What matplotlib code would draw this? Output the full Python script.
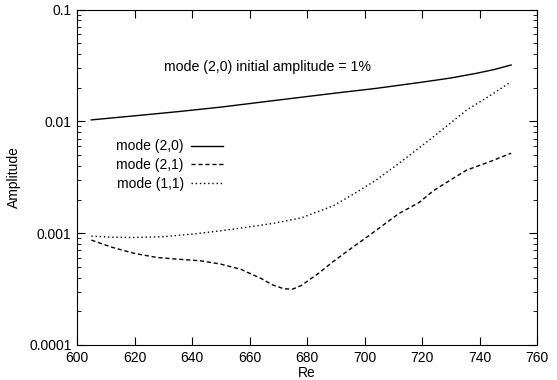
import numpy as np
from matplotlib import pyplot as plt
from matplotlib.ticker import FixedLocator, FixedFormatter, LogLocator, NullFormatter

plt.rcParams['font.family'] = ['Liberation Sans', 'DejaVu Sans']

# mode (2,0)
re_20 = [605, 620, 635, 650, 670, 690, 704, 720, 730, 739, 745, 751]
amp_20 = [0.0103, 0.0112, 0.0122, 0.0134, 0.0155, 0.0179, 0.0197, 0.0224, 0.0244, 0.0269, 0.0290, 0.0319]

# mode (2,1)
re_21 = [605, 612, 620, 628, 636, 643, 650, 657, 664, 668, 672, 675, 678, 680, 684, 689,
         695, 701, 712, 719, 724, 730, 735.5, 744, 751]
amp_21 = [0.000867, 0.00075, 0.000659, 0.000605, 0.000583, 0.000566, 0.000529, 0.000475,
          0.000394, 0.000345, 0.000318, 0.000316, 0.000340, 0.000370, 0.000437, 0.000555,
          0.00072, 0.000929, 0.0015, 0.00188, 0.0024, 0.0030, 0.00366, 0.0044, 0.00518]

# mode (1,1)
re_11 = [605, 612, 620, 630, 640, 650, 659, 668, 678, 689, 697, 704, 712, 724, 735.5, 744, 751]
amp_11 = [0.000942, 0.00092, 0.000915, 0.00093, 0.00098, 0.00105, 0.00113, 0.00122, 0.00137,
          0.00175, 0.0023, 0.00298, 0.00421, 0.00728, 0.0126, 0.0172, 0.0226]

yticks = [0.0001, 0.001, 0.01, 0.1]
ytick_labels = ['0.0001', '0.001', '0.01', '0.1']

fig = plt.figure(figsize=(5.57, 3.80), dpi=100)
ax = fig.add_axes([77/557, 35/380, 460/557, 335.5/380])

ax.plot(re_20, amp_20, color='black', lw=1.0, label='mode (2,0)')
ax.plot(re_21, amp_21, color='black', lw=1.0, ls=(0, (3, 2)), label='mode (2,1)')
ax.plot(re_11, amp_11, color='black', lw=1.0, ls=(0, (1, 2)), label='mode (1,1)')

ax.set_yscale('log')
ax.set_xlim(600, 760)
ax.set_ylim(0.0001, 0.1)
ax.set_xticks(np.arange(600, 761, 20))
ax.yaxis.set_major_locator(FixedLocator(yticks))
ax.yaxis.set_major_formatter(FixedFormatter(ytick_labels))
ax.yaxis.set_minor_locator(LogLocator(base=10, subs=np.arange(2, 10)))
ax.yaxis.set_minor_formatter(NullFormatter())
ax.tick_params(which='both', direction='in', top=True, right=True, labelsize=10, pad=4)
ax.tick_params(which='major', length=6)
ax.tick_params(which='minor', length=3)

ax.set_xlabel('Re', fontsize=10, labelpad=1)
ax.set_ylabel('Amplitude', fontsize=10, labelpad=6)

ax.text(630.2, 0.0308, 'mode (2,0) initial amplitude = 1%', fontsize=10.2, va='center')

ax.legend(loc='upper left', bbox_to_anchor=(0.058, 0.65), frameon=False, markerfirst=False,
          fontsize=10, handlelength=2.3, labelspacing=0.35, handletextpad=0.5)

fig.savefig('out.png', dpi=100)
